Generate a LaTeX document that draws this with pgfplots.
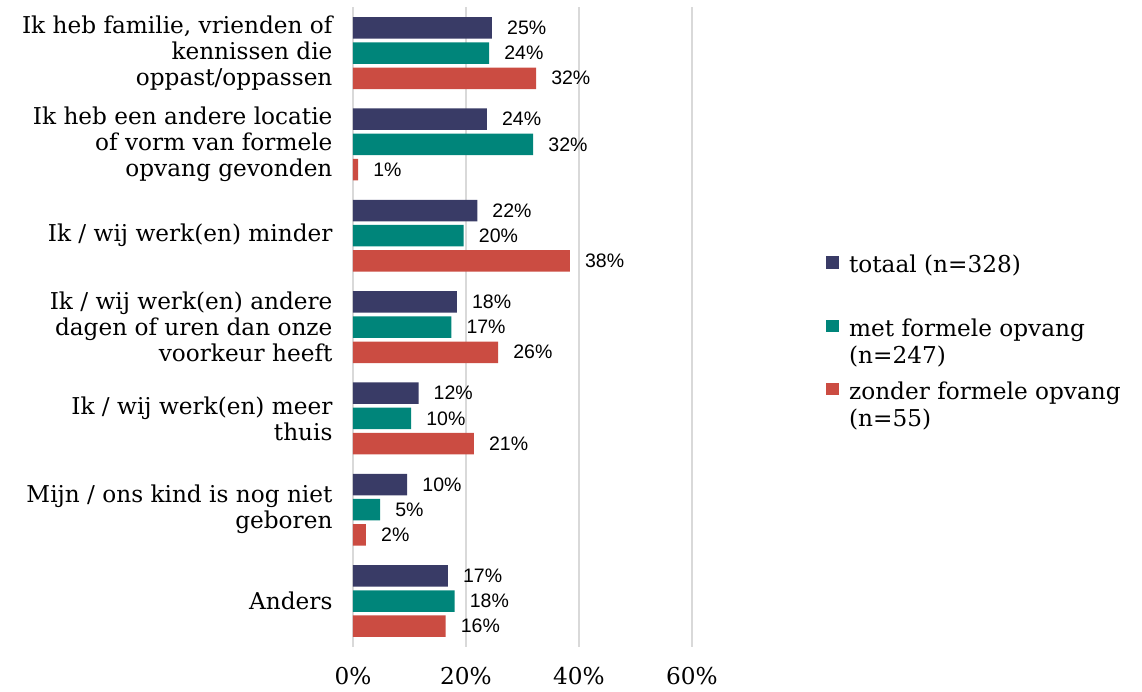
\documentclass[border=0pt]{standalone}
\usepackage{fontspec}
\setmainfont{DejaVu Serif}
\newfontfamily\labfont{Liberation Sans}
\usepackage{pgfplots}
\pgfplotsset{compat=1.18}
\definecolor{cTot}{RGB}{57,59,102}
\definecolor{cMet}{RGB}{0,133,122}
\definecolor{cZon}{RGB}{203,76,66}
\begin{document}
\begin{tikzpicture}
\useasboundingbox (-353pt,-44.3pt) rectangle (789pt,646.7pt);
\begin{axis}[
 at={(0,0)}, anchor=south west,
 scale only axis, width=339pt, height=639.3pt,
 xbar, bar width=21.5pt,
 xmin=0, xmax=60,
 ymin=-0.5, ymax=6.5, y dir=reverse,
 ytick={0,...,6},
 yticklabels={{Ik heb familie, vrienden of\\kennissen die\\oppast/oppassen},
   {Ik heb een andere locatie\\of vorm van formele\\opvang gevonden},
   {Ik / wij werk(en) minder},
   {Ik / wij werk(en) andere\\dagen of uren dan onze\\voorkeur heeft},
   {Ik / wij werk(en) meer\\thuis},
   {Mijn / ons kind is nog niet\\geboren},
   {Anders}},
 xtick={0,20,40,60}, xticklabels={0\%,20\%,40\%,60\%},
 xmajorgrids, grid style={draw=black!15, line width=1.5pt},
 axis line style={draw=none},
 major tick length=0pt,
 tick label style={font=\fontsize{23.2}{26}\selectfont},
 yticklabel style={align=right, xshift=-17pt},
 xticklabel style={yshift=-17pt},
 point meta=x,
 nodes near coords={\pgfmathprintnumber[fixed,precision=0,assume math mode=true]{\pgfplotspointmeta}\%},
 nodes near coords style={font=\labfont\fontsize{19.5}{20}\selectfont, anchor=west, inner sep=0pt, xshift=15pt, text=black},
 every axis plot post/.append style={legend image code/.code={\fill[##1] (0pt,-15.6pt) rectangle (13pt,-3.2pt);}},
 legend style={at={(rel axis cs:1.395,0.616)}, anchor=north west, draw=none, fill=none, inner sep=0pt, row sep=13pt,
   font=\fontsize{23.2}{27}\selectfont, cells={anchor=north west, align=left},
   /tikz/every odd column/.append style={column sep=8pt}},
]
\addplot[fill=cTot, draw=none, bar shift=25.2pt] coordinates {(24.6,0) (23.7,1) (22,2) (18.4,3) (11.6,4) (9.6,5) (16.8,6)};
\addlegendentry{totaal (n=328)\\ \vphantom{(}}
\addplot[fill=cMet, draw=none, bar shift=0pt] coordinates {(24.1,0) (31.9,1) (19.6,2) (17.4,3) (10.3,4) (4.8,5) (18,6)};
\addlegendentry{met formele opvang\\(n=247)}
\addplot[fill=cZon, draw=none, bar shift=-25.2pt] coordinates {(32.4,0) (0.9,1) (38.4,2) (25.7,3) (21.4,4) (2.3,5) (16.4,6)};
\addlegendentry{zonder formele opvang\\(n=55)}
\end{axis}
\end{tikzpicture}
\end{document}
